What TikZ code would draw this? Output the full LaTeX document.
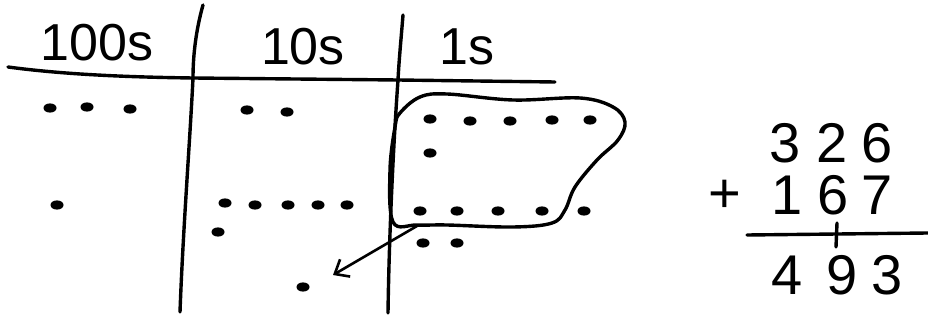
\documentclass[tikz,border=0pt]{standalone}
\usepackage{fontspec}
\setmainfont{Liberation Sans}
\usetikzlibrary{arrows.meta}
\begin{document}
\begin{tikzpicture}[x=1pt,y=-1pt,
  ink/.style={line width=3.4pt,line cap=round,line join=round},
  head/.style={font=\fontsize{52}{56}\selectfont,inner sep=0pt},
  digit/.style={font=\fontsize{56}{60}\selectfont,inner sep=0pt}]
\useasboundingbox (0,0) rectangle (928,320);
% rule lines
\draw[ink] (8,67) .. controls (60,74) and (120,77) .. (193,78) -- (398,80) -- (555,82);
\draw[ink] (203,5) .. controls (196,30) and (193,55) .. (193,78) .. controls (190,140) and (183,230) .. (180,312);
\draw[ink] (403,15) .. controls (401,40) and (399,60) .. (398,80) .. controls (393,150) and (389,240) .. (388,313);
% headers
\node[head] (h100) at (97,43) {100s};
\node[head] (h10) at (303,47) {10s};
\node[head] (h1) at (467,47) {1s};
% dots
\foreach \p in {(50,108),(87,107),(130,109),(247,110),(287,112),
  (430,119),(470,121),(510,121),(552,120),(590,120),(430,153),
  (420,211),(457,211),(498,211),(542,211),(584,211),(423,243),(457,243),
  (57,205),(225,203),(255,205),(288,205),(318,205),(347,205),(218,232),(303,287)}
  \fill \p ellipse [x radius=6.5pt, y radius=4.6pt];
% regroup blob
\draw[ink] plot[smooth cycle, tension=0.6] coordinates {(400,113) (420,97) (447,94) (513,100) (580,98) (613,107) (625,122) (618,140) (597,160) (575,187) (565,210) (552,223) (513,227) (447,225) (417,225) (393,222) (390,170) (395,127)};
\coordinate (from) at (417,226);
\coordinate (to) at (333,275);
\draw[line width=2.6pt,line cap=round,-{Straight Barb[length=12pt,width=20pt,line width=2.6pt]}] (from) -- (to);
% arithmetic
\node[digit] (a1) at (785,143) {3};
\node[digit] (a2) at (832,143) {2};
\node[digit] (a3) at (877,143) {6};
\node[digit] (plus) at (725,196) {+};
\node[digit] (b1) at (787,195) {1};
\node[digit] (b2) at (833,195) {6};
\node[digit] (b3) at (877,195) {7};
\coordinate (lineL) at (747,235);
\coordinate (lineR) at (928,233);
\draw[ink] (lineL) -- (lineR);
\draw[ink] (837,223) -- (836,247);
\node[digit] (c1) at (787,275) {4};
\node[digit] (c2) at (842,275) {9};
\node[digit] (c3) at (887,275) {3};
\end{tikzpicture}
\end{document}
